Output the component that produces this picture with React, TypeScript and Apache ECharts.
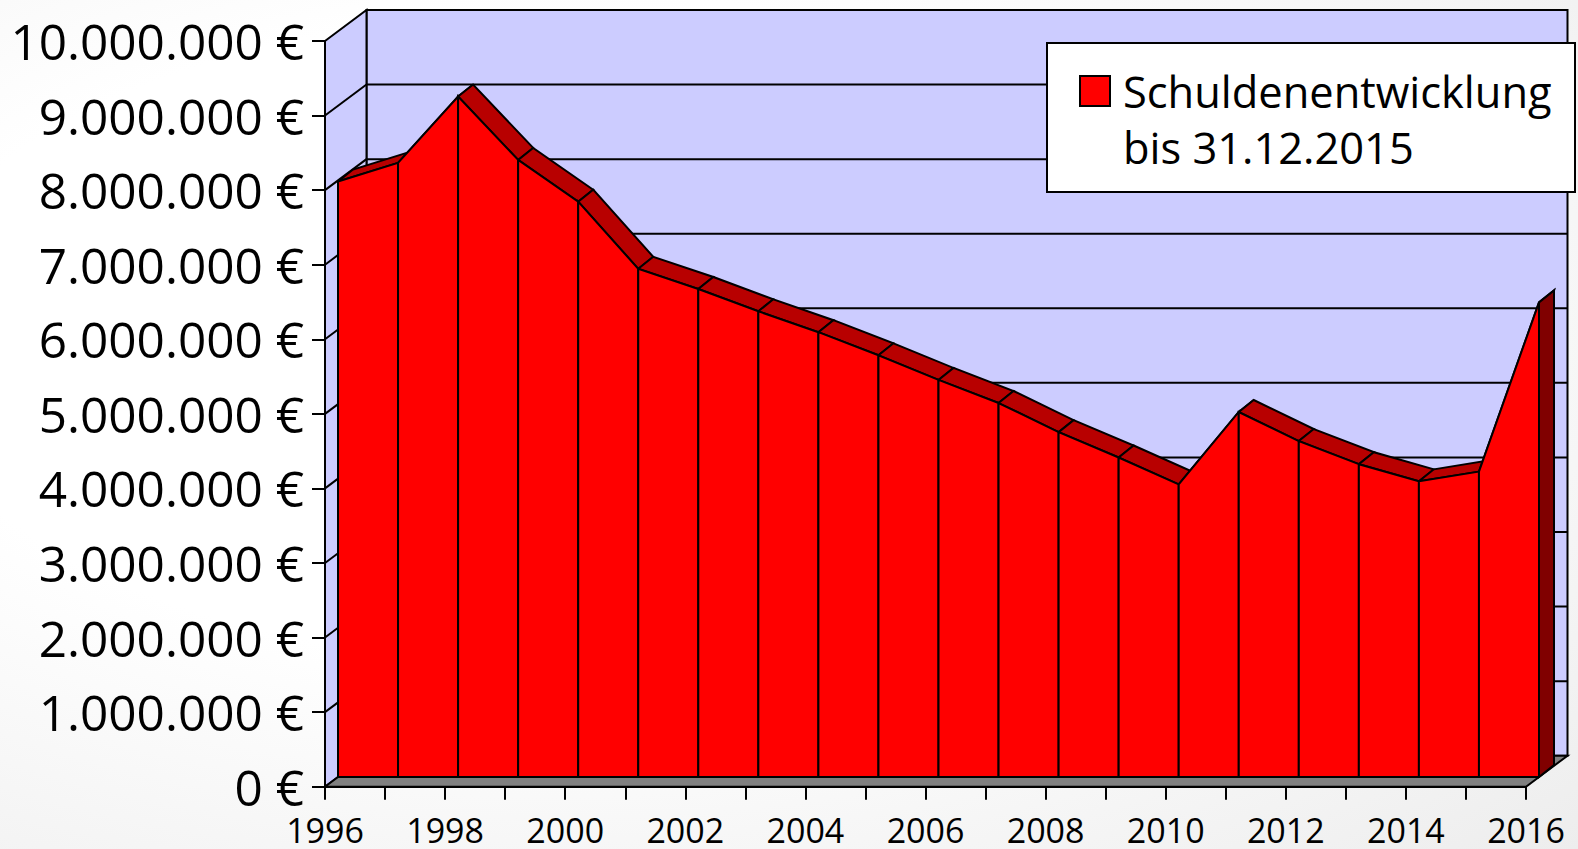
import React, { useEffect, useRef } from "react";
import * as echarts from "echarts";

const years = ["1996","1997","1998","1999","2000","2001","2002","2003","2004","2005","2006","2007","2008","2009","2010","2011","2012","2013","2014","2015","2016"];
const debts = [7985000,8235000,9125000,8275000,7715000,6815000,6545000,6245000,5965000,5655000,5325000,5015000,4625000,4285000,3925000,4895000,4505000,4195000,3965000,4095000,6365000];
const yTicks = [0,1000000,2000000,3000000,4000000,5000000,6000000,7000000,8000000,9000000,10000000];
const seriesName = "Schuldenentwicklung bis 31.12.2015";

const FONT = '"Open Sans", "Noto Sans", sans-serif';
const WALL = [41.5, -31];
const FRONT = [13, -9.7];
const BACK = [28, -21.7];

const off = (p: number[], o: number[]) => [p[0] + o[0], p[1] + o[1]];
const stroke = { stroke: "#000", lineWidth: 2 };

function renderWalls(params: any, api: any) {
  const lastX = years.length - 1;
  const yMax = yTicks[yTicks.length - 1];
  const fl0 = api.coord([0, 0]);
  const fl1 = api.coord([lastX, 0]);
  const ft0 = api.coord([0, yMax]);
  const bl0 = off(fl0, WALL);
  const bl1 = off(fl1, WALL);
  const bt0 = off(ft0, WALL);
  const bt1 = off(api.coord([lastX, yMax]), WALL);
  const children: any[] = [
    { type: "polygon", shape: { points: [bt0, bt1, bl1, bl0] }, style: { fill: "#CCCCFF", ...stroke } },
    { type: "polygon", shape: { points: [ft0, bt0, bl0, fl0] }, style: { fill: "#CCCCFF", ...stroke } },
  ];
  yTicks.slice(1, -1).forEach((t) => {
    const a = api.coord([0, t]);
    const b = off(a, WALL);
    const c = off(api.coord([lastX, t]), WALL);
    children.push({ type: "line", shape: { x1: a[0], y1: a[1], x2: b[0], y2: b[1] }, style: stroke });
    children.push({ type: "line", shape: { x1: b[0], y1: b[1], x2: c[0], y2: c[1] }, style: stroke });
  });
  children.push({ type: "polygon", shape: { points: [fl0, fl1, bl1, bl0] }, style: { fill: "#808080", ...stroke } });
  return { type: "group", children };
}

function renderBand(params: any, api: any) {
  const i = params.dataIndex;
  const p = api.coord([i, debts[i]]);
  const children: any[] = [];
  if (i < debts.length - 1) {
    const q = api.coord([i + 1, debts[i + 1]]);
    children.push({
      type: "polygon",
      shape: { points: [off(p, FRONT), off(q, FRONT), off(q, BACK), off(p, BACK)] },
      style: { fill: "#B80000", ...stroke },
    });
  } else {
    const z = api.coord([i, 0]);
    children.push({
      type: "polygon",
      shape: { points: [off(p, FRONT), off(p, BACK), off(z, BACK), off(z, FRONT)] },
      style: { fill: "#800000", ...stroke },
    });
  }
  return { type: "group", children };
}

function renderFront(params: any, api: any) {
  const i = params.dataIndex;
  if (i >= debts.length - 1) return { type: "group", children: [] };
  const pts = [
    api.coord([i, 0]),
    api.coord([i, debts[i]]),
    api.coord([i + 1, debts[i + 1]]),
    api.coord([i + 1, 0]),
  ].map((p) => off(p, FRONT));
  return { type: "polygon", shape: { points: pts }, style: { fill: "#FF0000", ...stroke } };
}

const dataPairs = debts.map((v, i) => [i, v]);

export default function App() {
  const ref = useRef<HTMLDivElement>(null);
  useEffect(() => {
    document.body.style.margin = "0";
    const chart = echarts.init(ref.current!, undefined, { renderer: "svg" });
    chart.setOption({
      animation: false,
      backgroundColor: "transparent",
      grid: { left: 325, top: 41, width: 1201, height: 745.7, containLabel: false },
      xAxis: {
        type: "category",
        boundaryGap: false,
        data: years,
        axisLine: { show: true, lineStyle: { color: "#000", width: 2 } },
        axisTick: { show: true, length: 13, interval: 0, lineStyle: { color: "#000", width: 2 } },
        axisLabel: { interval: 1, color: "#000", fontFamily: FONT, fontSize: 34, lineHeight: 30, margin: 28, hideOverlap: false },
        splitLine: { show: false },
      },
      yAxis: {
        type: "value",
        min: 0,
        max: 10000000,
        interval: 1000000,
        axisLine: { show: true, lineStyle: { color: "#000", width: 2 } },
        axisTick: { show: true, length: 13, lineStyle: { color: "#000", width: 2 } },
        axisLabel: {
          color: "#000",
          fontFamily: FONT,
          fontSize: 49.5,
          margin: 21,
          padding: [0, 0, 3, 0],
          formatter: (v: number) => String(v).replace(/\B(?=(\d{3})+(?!\d))/g, ".") + " €",
        },
        splitLine: { show: false },
      },
      legend: {
        show: true,
        z: 30,
        left: 1079,
        top: 7,
        padding: 0,
        icon: "rect",
        itemWidth: 30,
        itemHeight: 30,
        itemGap: 0,
        data: [{ name: seriesName, itemStyle: { color: "#FF0000", borderColor: "#000", borderWidth: 2 } }],
        formatter: () => "\nSchuldenentwicklung\nbis 31.12.2015",
        textStyle: { color: "#000", fontFamily: FONT, fontSize: 43.4, lineHeight: 56, padding: [0, 0, 0, 8] },
      },
      graphic: [
        {
          type: "rect",
          z: 20,
          silent: true,
          shape: { x: 1047, y: 43, width: 528, height: 149 },
          style: { fill: "#fff", stroke: "#000", lineWidth: 2 },
        },
      ],
      series: [
        { type: "custom", name: "walls", data: [[0, 0]], renderItem: renderWalls, z: 1, silent: true, legendHoverLink: false },
        { type: "custom", name: "band", data: dataPairs, renderItem: renderBand, z: 3, silent: true },
        { type: "custom", name: seriesName, data: dataPairs, renderItem: renderFront, z: 4, silent: true, itemStyle: { color: "#FF0000" } },
      ],
    });
    return () => chart.dispose();
  }, []);
  return (
    <div
      ref={ref}
      style={{
        width: 1578,
        height: 849,
        background: "radial-gradient(ellipse at 35% 40%, #ffffff 45%, #ededed 100%)",
      }}
    />
  );
}
